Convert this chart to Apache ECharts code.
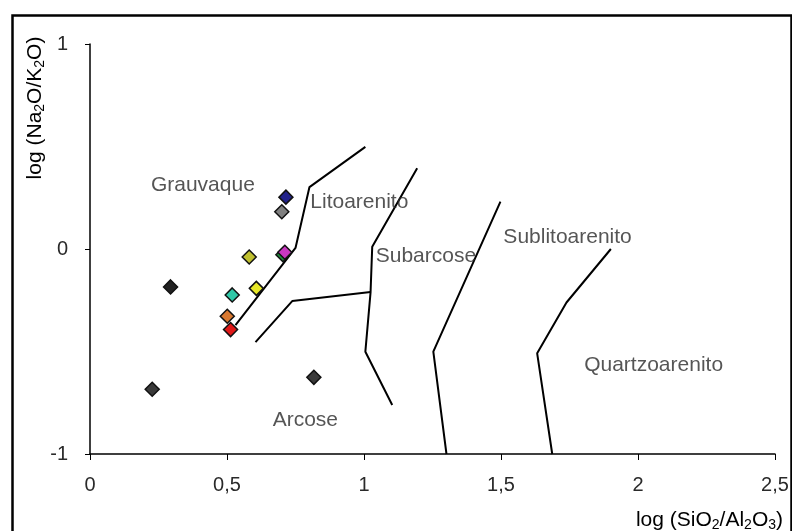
<!DOCTYPE html>
<html>
<head>
<meta charset="utf-8">
<script src="https://cdn.jsdelivr.net/npm/echarts@6/dist/echarts.min.js"></script>
<style>html,body{margin:0;padding:0;background:#fff}#c{width:792px;height:531px}</style>
</head>
<body>
<div id="c"></div>
<script>
// ---- data ----
var xTicks = [0, 0.5, 1, 1.5, 2, 2.5];
var yTicks = [-1, 0, 1];

// samples: log(SiO2/Al2O3), log(Na2O/K2O)
var sampleX = [0.704, 0.581, 0.607, 0.715, 0.700, 0.711, 0.519, 0.501, 0.513, 0.294, 0.227, 0.817];
var sampleY = [-0.028, -0.039, -0.192, 0.253, 0.182, -0.016, -0.224, -0.328, -0.393, -0.185, -0.684, -0.626];
var sampleColor = ['#1f8a3a', '#c0c030', '#e8e828', '#22228a', '#808080', '#c838c0', '#30c8a8', '#d87830', '#e01818', '#222222', '#3a3a3a', '#3a3a3a'];

// classification boundaries
var lineA_x = [0.531, 0.75, 0.801, 1.005];
var lineA_y = [-0.371, 0.005, 0.302, 0.498];
var lineB_x = [0.604, 0.738, 1.024];
var lineB_y = [-0.454, -0.254, -0.21];
var lineC_x = [1.194, 1.03, 1.024, 1.005, 1.103];
var lineC_y = [0.394, 0.011, -0.21, -0.501, -0.761];
var lineD_x = [1.498, 1.253, 1.301];
var lineD_y = [0.231, -0.501, -1.0];
var lineE_x = [1.901, 1.739, 1.632, 1.687];
var lineE_y = [0.0, -0.261, -0.509, -1.0];

// field names
var fieldName = ['Grauvaque', 'Litoarenito', 'Subarcose', 'Sublitoarenito', 'Quartzoarenito', 'Arcose'];
var fieldX = [0.412, 0.983, 1.226, 1.743, 2.057, 0.786];
var fieldY = [0.312, 0.229, -0.034, 0.059, -0.566, -0.834];

// ---- chart ----
function zip(a, b) { return a.map(function (v, i) { return [v, b[i]]; }); }
var FONT = 'Liberation Sans, Arial, sans-serif';
var TXT = '#2a2a2a';

var lines = [[lineA_x, lineA_y], [lineB_x, lineB_y], [lineC_x, lineC_y], [lineD_x, lineD_y], [lineE_x, lineE_y]];
var series = lines.map(function (l) {
  return {
    type: 'line', data: zip(l[0], l[1]), showSymbol: false, symbol: 'none',
    lineStyle: { color: '#000', width: 2 }, silent: true, z: 2, animation: false
  };
});
series.push({
  type: 'scatter', symbol: 'diamond', symbolSize: 14, z: 5, animation: false,
  data: sampleX.map(function (x, i) {
    return { value: [x, sampleY[i]], itemStyle: { color: sampleColor[i], opacity: 1, borderColor: '#111', borderWidth: 1.5 } };
  })
});
series.push({
  type: 'scatter', symbolSize: 0, z: 6, animation: false, silent: true,
  data: fieldX.map(function (x, i) { return { value: [x, fieldY[i]], name: fieldName[i] }; }),
  label: { show: true, position: 'inside', formatter: '{b}', fontFamily: FONT, fontSize: 21, color: TXT }
});

var sub = { fontFamily: FONT, fontSize: 14, color: TXT, lineHeight: 14, padding: [10, 0, 0, 0] };
var nrm = { fontFamily: FONT, fontSize: 21, color: TXT, lineHeight: 27 };

var chart = echarts.init(document.getElementById('c'), null, { renderer: 'canvas' });
chart.setOption({
  backgroundColor: '#fff',
  animation: false,
  grid: { left: 90, right: 17, top: 44, bottom: 77, containLabel: false },
  xAxis: {
    type: 'value', min: xTicks[0], max: xTicks[xTicks.length - 1], interval: 0.5,
    axisLine: { show: true, onZero: false, lineStyle: { color: '#000', width: 1.5 } },
    axisTick: { show: true, inside: false, length: 6, lineStyle: { color: '#000', width: 1 } },
    splitLine: { show: false },
    axisLabel: { margin: 21, fontFamily: FONT, fontSize: 20, color: TXT,
      formatter: function (v) { return String(v).replace('.', ','); } }
  },
  yAxis: {
    type: 'value', min: yTicks[0], max: yTicks[yTicks.length - 1], interval: 1,
    axisLine: { show: true, onZero: false, lineStyle: { color: '#000', width: 1.5 } },
    axisTick: { show: true, inside: false, length: 5, lineStyle: { color: '#000', width: 1 } },
    splitLine: { show: false },
    axisLabel: { margin: 22, fontFamily: FONT, fontSize: 20, color: TXT }
  },
  graphic: [
    { type: 'rect', left: 10, top: 13, shape: { width: 779, height: 530 },
      style: { fill: null, stroke: '#000', lineWidth: 2.5 }, silent: true, z: 0 },
    { type: 'text', x: 783, y: 520, z: 10,
      style: { text: '{n|log (SiO}{s|2}{n|/Al}{s|2}{n|O}{s|3}{n|)}', align: 'right', verticalAlign: 'middle',
        rich: { n: nrm, s: sub } } },
    { type: 'text', x: 35, y: 108, rotation: Math.PI / 2, z: 10,
      style: { text: '{n|log (Na}{s|2}{n|O/K}{s|2}{n|O)}', align: 'center', verticalAlign: 'middle',
        rich: { n: nrm, s: sub } } }
  ],
  series: series
});
</script>
</body>
</html>
